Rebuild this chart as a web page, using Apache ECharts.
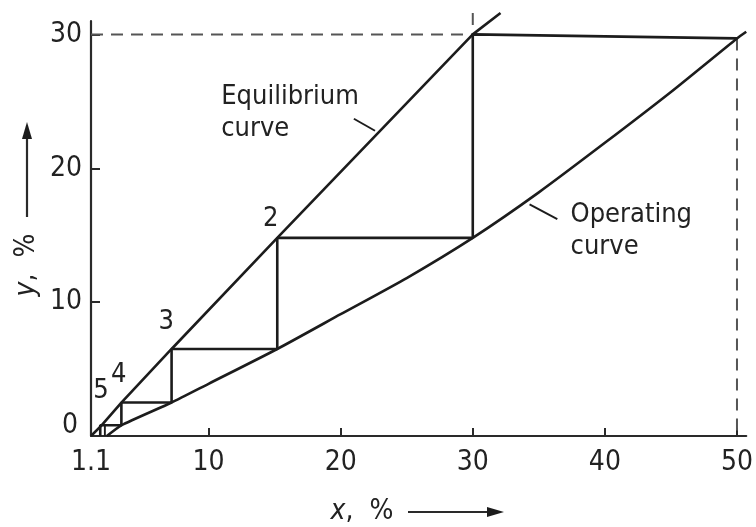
<!DOCTYPE html>
<html>
<head>
<meta charset="utf-8">
<script src="https://cdn.jsdelivr.net/npm/echarts@6/dist/echarts.min.js"></script>
<style>
html,body{margin:0;padding:0;background:#fff;}
#main{width:756px;height:527px;}
</style>
</head>
<body>
<div id="main"></div>
<script>
// ---- data ----
const xTickLabels = [1.1, 10, 20, 30, 40, 50];
const xTicks = [10, 20, 30, 40, 50];
const eqX = [1.1, 1.9, 3.4, 7.2, 15.2, 30, 32.1];
const eqY = [0, 0.8, 2.5, 6.5, 14.8, 30, 31.6];
const opX = [2.3, 3.4, 7.2, 10, 15.2, 20, 25, 30, 35, 40, 45, 50, 50.7];
const opY = [0, 0.8, 2.5, 3.9, 6.5, 9.1, 11.8, 14.8, 18.2, 21.9, 25.7, 29.7, 30.2];
const stepX = [50, 30, 30, 15.2, 15.2, 7.2, 7.2, 3.4, 3.4, 1.8, 1.8];
const stepY = [29.7, 30, 14.8, 14.8, 6.5, 6.5, 2.5, 2.5, 0.8, 0.8, 0];
const tailX = [2.15, 2.15];
const tailY = [0.8, 0];
const dashHX = [1.1, 30];
const dashHY = [30, 30];
const dashTopX = [30, 30];
const dashTopY = [31.6, 30];
const dashRX = [50, 50];
const dashRY = [29.7, 0];
const leadEqX = [21.0, 22.6];
const leadEqY = [23.7, 22.8];
const leadOpX = [34.3, 36.4];
const leadOpY = [17.3, 16.2];
const noteText = ['Equilibrium\ncurve', 'Operating\ncurve', '2', '3', '4', '5'];
const noteX = [10.96, 37.4, 14.7, 6.8, 3.2, 1.85];
const noteY = [24.1, 15.3, 16.2, 8.5, 4.55, 3.36];

const FONT = "'DejaVu Sans Condensed', 'DejaVu Sans', sans-serif";
const INK = '#1c1c1c';
const TXT = '#222';
const pairs = (xs, ys) => xs.map((x, i) => [x, ys[i]]);

const solid = (name, xs, ys, smooth) => ({
  name, type: 'line', data: pairs(xs, ys), symbol: 'none', clip: false, silent: true,
  smooth: smooth || false,
  lineStyle: { color: INK, width: 2.6 }, z: 3
});
const dashed = (name, xs, ys) => ({
  name, type: 'line', data: pairs(xs, ys), symbol: 'none', clip: false, silent: true,
  lineStyle: { color: '#555', width: 2, type: [12, 8] }, z: 2
});
const thin = (name, xs, ys) => ({
  name, type: 'line', data: pairs(xs, ys), symbol: 'none', clip: false, silent: true,
  lineStyle: { color: INK, width: 1.9 }, z: 3
});

const notes = noteText.map((t, i) => {
  const multi = t.indexOf('\n') >= 0;
  return {
    value: [noteX[i], noteY[i]],
    label: {
      show: true,
      formatter: t,
      position: multi ? 'right' : 'inside',
      distance: 0,
      align: multi ? 'left' : 'center',
      verticalAlign: 'middle',
      fontFamily: FONT,
      fontSize: 27,
      lineHeight: 32,
      color: TXT
    }
  };
});

const chart = echarts.init(document.getElementById('main'), null, { renderer: 'canvas' });
chart.setOption({
  animation: false,
  backgroundColor: '#fff',
  grid: { left: 91, right: 6, top: 21, bottom: 91, containLabel: false },
  xAxis: {
    type: 'value', min: 1.1, max: 50.7,
    axisLine: { lineStyle: { color: '#2a2a2a', width: 2.2 } },
    axisTick: { inside: true, length: 8, lineStyle: { color: '#2a2a2a', width: 2 }, customValues: xTicks },
    axisLabel: {
      customValues: xTickLabels, margin: 13, color: TXT, fontFamily: FONT, fontSize: 28,
      formatter: v => String(v)
    },
    splitLine: { show: false }
  },
  yAxis: {
    type: 'value', min: 0, max: 31, interval: 10,
    axisLine: { show: true, lineStyle: { color: '#2a2a2a', width: 2.2 } },
    axisTick: { show: true, inside: true, length: 9, lineStyle: { color: '#2a2a2a', width: 2 } },
    axisLabel: {
      margin: 9, color: TXT, fontFamily: FONT, fontSize: 28,
      formatter: v => v === 0 ? '{z|0}' : String(v),
      rich: { z: { fontFamily: FONT, fontSize: 28, color: TXT, padding: [0, 4, 20, 0] } }
    },
    splitLine: { show: false }
  },
  graphic: [
    { type: 'text', x: 27, y: 265, rotation: Math.PI / 2,
      style: { text: '{i|y},  %', align: 'center', verticalAlign: 'middle',
        font: '28px ' + FONT, fill: TXT,
        rich: { i: { fontStyle: 'italic', fontFamily: FONT, fontSize: 28, fill: TXT } } } },
    { type: 'line', shape: { x1: 27, y1: 217, x2: 27, y2: 134 }, style: { stroke: '#2a2a2a', lineWidth: 2.2 } },
    { type: 'polygon', shape: { points: [[27, 122], [22, 139], [32, 139]] }, style: { fill: '#1c1c1c' } },
    { type: 'text', x: 362, y: 512,
      style: { text: '{i|x},  %', align: 'center', verticalAlign: 'middle',
        font: '28px ' + FONT, fill: TXT,
        rich: { i: { fontStyle: 'italic', fontFamily: FONT, fontSize: 28, fill: TXT } } } },
    { type: 'line', shape: { x1: 408, y1: 512, x2: 492, y2: 512 }, style: { stroke: '#2a2a2a', lineWidth: 2.2 } },
    { type: 'polygon', shape: { points: [[504, 512], [487, 507], [487, 517]] }, style: { fill: '#1c1c1c' } }
  ],
  series: [
    solid('Equilibrium curve', eqX, eqY),
    solid('Operating curve', opX, opY, 0.2),
    solid('Stages', stepX, stepY),
    thin('Stage tail', tailX, tailY),
    dashed('dash h', dashHX, dashHY),
    dashed('dash top', dashTopX, dashTopY),
    dashed('dash right', dashRX, dashRY),
    thin('leader eq', leadEqX, leadEqY),
    thin('leader op', leadOpX, leadOpY),
    { name: 'notes', type: 'scatter', symbolSize: 0, silent: true, data: notes, z: 5,
      itemStyle: { opacity: 1, color: 'transparent' } }
  ]
});
</script>
</body>
</html>
